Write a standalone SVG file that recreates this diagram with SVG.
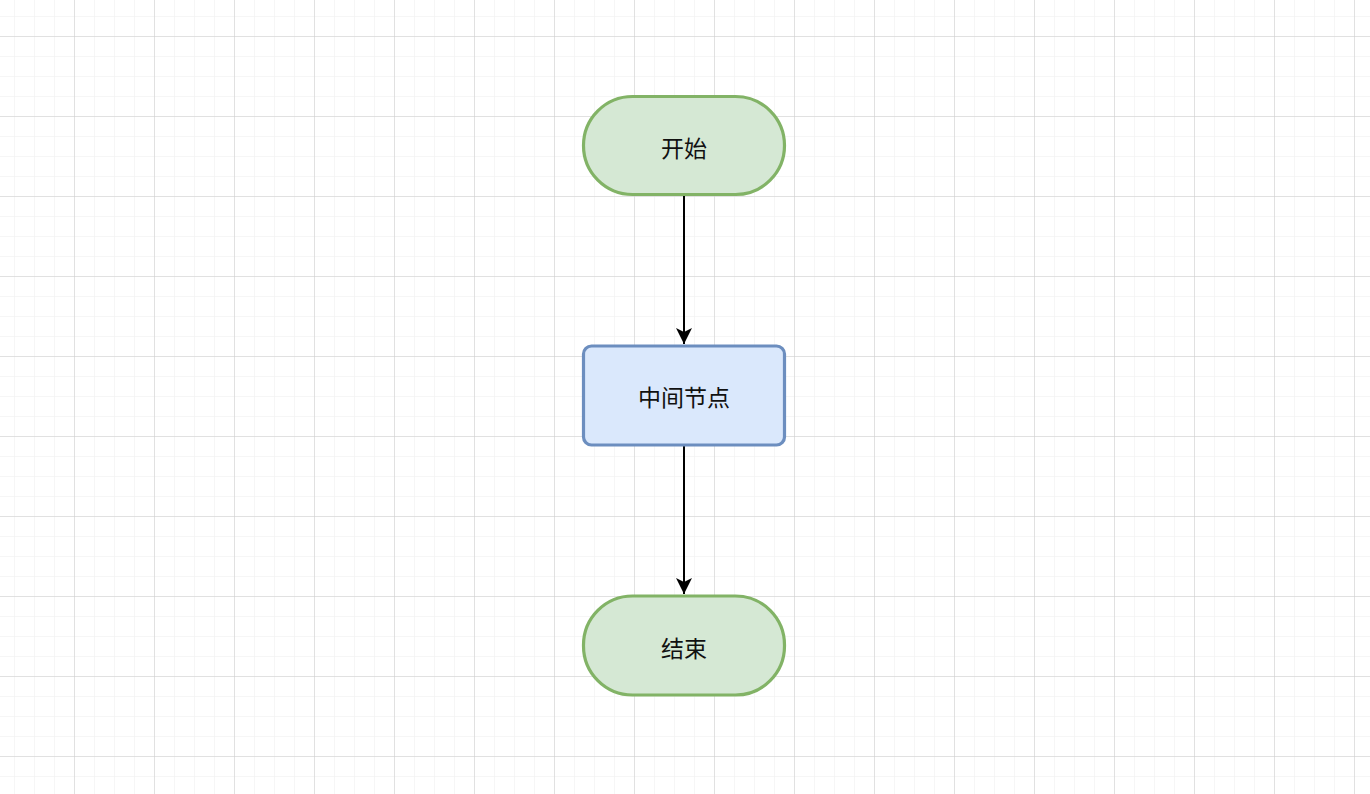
<svg xmlns="http://www.w3.org/2000/svg" width="1370" height="794" viewBox="0 0 1370 794">
<defs>
<pattern id="minor" x="14" y="16" width="20" height="20" patternUnits="userSpaceOnUse">
<path d="M0 0V20M0 0H20" fill="none" stroke="#eeeeee" stroke-width="1"/>
</pattern>
<pattern id="major" x="74" y="36" width="80" height="80" patternUnits="userSpaceOnUse">
<path d="M0 0V80M0 0H80" fill="none" stroke="#cccccc" stroke-width="1"/>
</pattern>
<marker id="arrow" markerWidth="8" markerHeight="8" refX="8" refY="4" orient="auto" markerUnits="strokeWidth">
<path d="M0 0L8 4L0 8L2 4Z" fill="#000"/>
</marker>
<style>
.term{fill:#d5e8d4;stroke:#82b366;stroke-width:3.2}
.proc{fill:#dae8fc;stroke:#6c8ebf;stroke-width:3.2}
.lbl{font-family:"Noto Sans CJK SC","Noto Sans",sans-serif;font-size:23px;fill:#111;text-anchor:middle;dominant-baseline:central}
.edge{fill:none;stroke:#000;stroke-width:2;marker-end:url(#arrow)}
</style>
</defs>
<rect width="1370" height="794" fill="#fff"/>
<rect width="1370" height="794" fill="url(#minor)"/>
<rect width="1370" height="794" fill="url(#major)"/>
<g id="connectors">
<path class="edge" d="M684 196V344"/>
<path class="edge" d="M684 446V594"/>
</g>
<g id="start">
<rect class="term" x="583.5" y="96.5" width="201" height="98" rx="49"/>
<text class="lbl" x="684" y="147">开始</text>
</g>
<g id="middle">
<rect class="proc" x="583.5" y="346" width="201" height="99" rx="8"/>
<text class="lbl" x="684" y="396">中间节点</text>
</g>
<g id="end">
<rect class="term" x="583.5" y="596" width="201" height="99" rx="49"/>
<text class="lbl" x="684" y="647">结束</text>
</g>
</svg>
